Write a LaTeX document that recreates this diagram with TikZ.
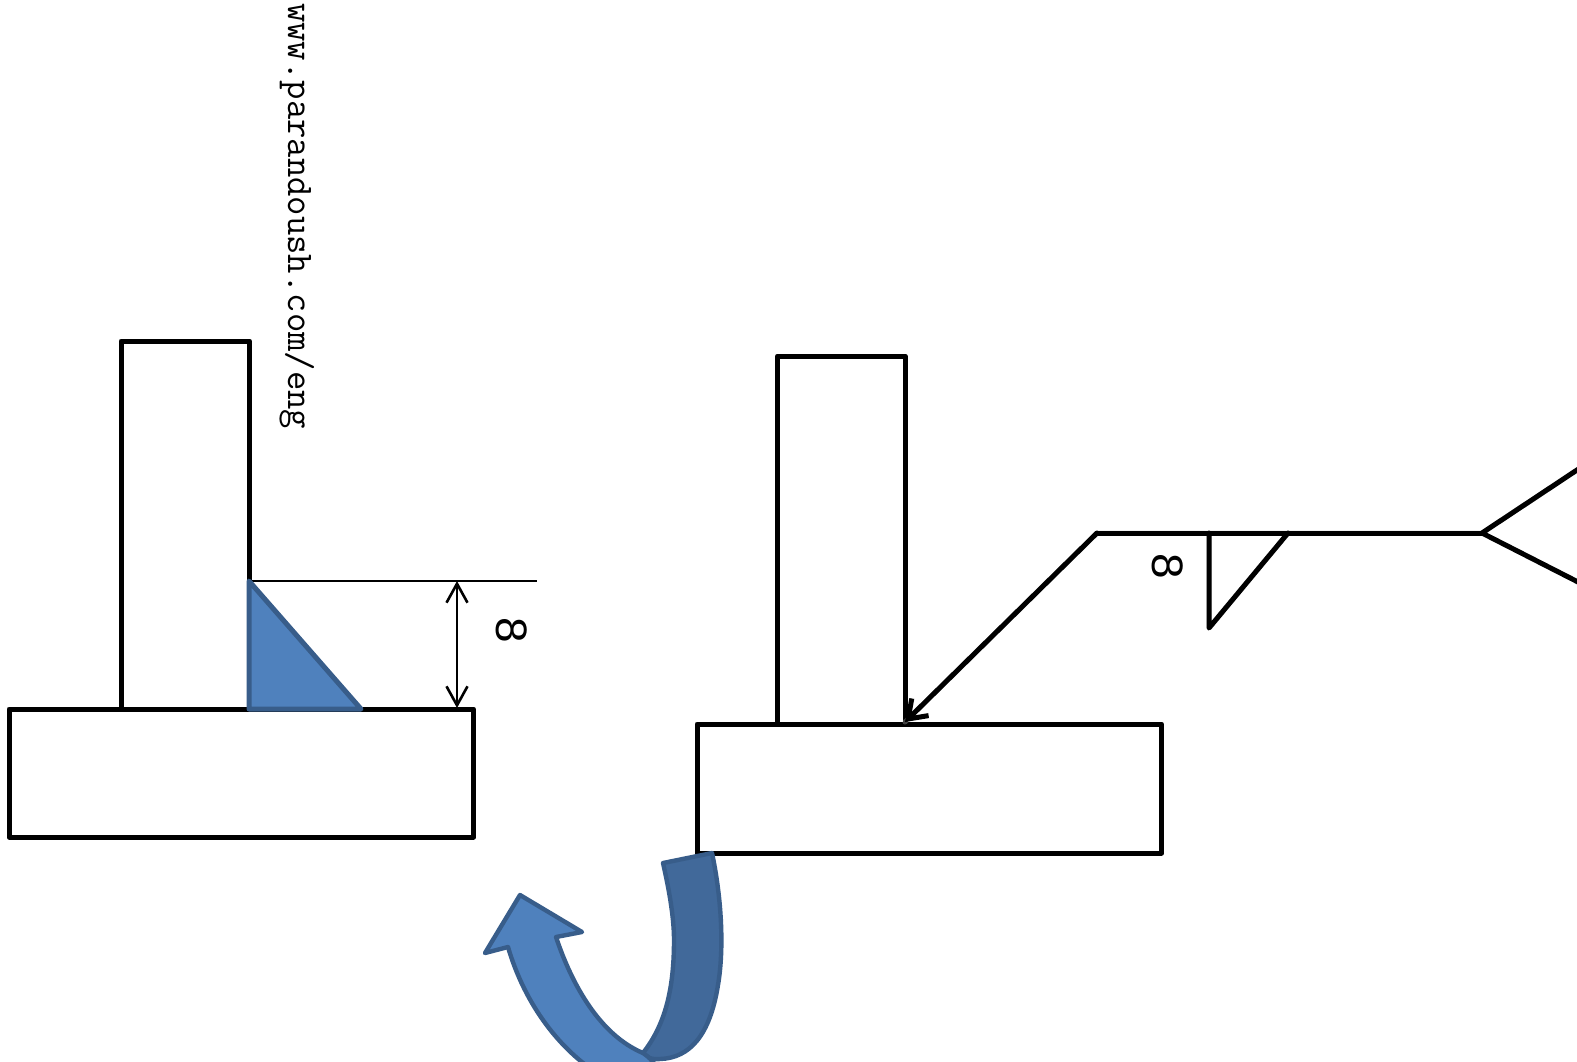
\documentclass[tikz,border=0pt]{standalone}
\usepackage{fontspec}
\setmainfont{Liberation Mono}
\usetikzlibrary{arrows.meta}
\definecolor{capfill}{HTML}{4F81BD}
\definecolor{capdark}{HTML}{41699A}
\definecolor{capline}{HTML}{385D8A}
\tikzset{
  plate/.style={draw=black,line width=5pt,fill=white,line join=round},
  leader/.style={draw=black,line width=5pt,line join=round,line cap=round},
  leadershadow/.style={draw=black!35,line width=5pt,line join=round,line cap=round,opacity=.4},
  weld/.style={draw=capline,line width=5pt,fill=capfill,line join=round},
  thin/.style={draw=black,line width=2.6pt},
  bent/.style={draw=capline,line width=4.4pt,line join=round},
  digit/.style={font=\fontsize{46pt}{46pt}\selectfont,rotate=-90,inner sep=0pt}
}
\begin{document}
\begin{tikzpicture}[x=1pt,y=-1pt]
\useasboundingbox (0,0) rectangle (1577,1061);
\clip (0,0) rectangle (1577,1061);
\fill[white] (0,0) rectangle (1577,1061);
% URL
\node[rotate=-90,anchor=base west,inner sep=0pt,font=\fontsize{37.6pt}{37.6pt}\selectfont\ttfamily] (url) at (288,3) {www.parandoush.com/eng};
% left joint
\coordinate (dimtop) at (457,581);
\coordinate (dimbot) at (457,708);
\coordinate (dimstart) at (249,581);
\coordinate (dimend) at (537,581);
\draw[plate] (121,341) rectangle (249.5,709);
\draw[plate] (9,709) rectangle (473.5,837);
\draw[thin] (dimstart) -- (dimend);
\draw[weld] (249,581) -- (249,709) -- (361,709) -- cycle;
\draw[thin,{Straight Barb[length=19pt,width=21pt]}-{Straight Barb[length=19pt,width=21pt]}] (dimtop) -- (dimbot);
\node[digit] (leftsize) at (512,630) {8};
% right joint
\draw[plate] (777.5,356) rectangle (905,724);
\draw[plate] (697,724) rectangle (1161.5,853);
\coordinate (bend) at (1097,533);
\coordinate (tip) at (905,722);
\coordinate (tail) at (1482,533);
\coordinate (tailup) at (1580,468);
\coordinate (taildown) at (1580,583);
\coordinate (symtop) at (1209,533);
\coordinate (symbot) at (1209,628);
\coordinate (symright) at (1288,533);
% soft shadow of the leader
\begin{scope}[shift={(1.5,2.5)}]
\draw[leadershadow] (tip) -- (bend) -- (tail);
\draw[leadershadow] (tailup) -- (tail) -- (taildown);
\draw[leadershadow] (symtop) -- (symbot) -- (symright);
\end{scope}
\draw[leader,-{Straight Barb[length=17pt,width=24pt]}] (bend) -- (tip);
\draw[leader] (bend) -- (tail);
\draw[leader] (tailup) -- (tail) -- (taildown);
\draw[leader] (symtop) -- (symbot) -- (symright);
\node[digit] (rightsize) at (1168,566) {8};
% bent arrow: back band
\draw[bent,fill=capdark] (663,863) -- (712,853)
  .. controls (722,900) and (724,950) .. (718,985)
  .. controls (710,1035) and (690,1058) .. (660,1059)
  .. controls (652,1060) and (645,1057) .. (643,1053)
  .. controls (665,1025) and (674,990) .. (674,940)
  .. controls (674,915) and (668,885) .. (663,863) -- cycle;
% bent arrow: front band
\draw[bent,fill=capfill] (520,895) -- (582,932) -- (556,937)
  .. controls (572,985) and (600,1035) .. (643,1053)
  .. controls (650,1058) and (655,1062) .. (660,1075)
  -- (600,1075)
  .. controls (560,1050) and (525,1005) .. (508,947)
  -- (485,953) -- cycle;
\end{tikzpicture}
\end{document}
